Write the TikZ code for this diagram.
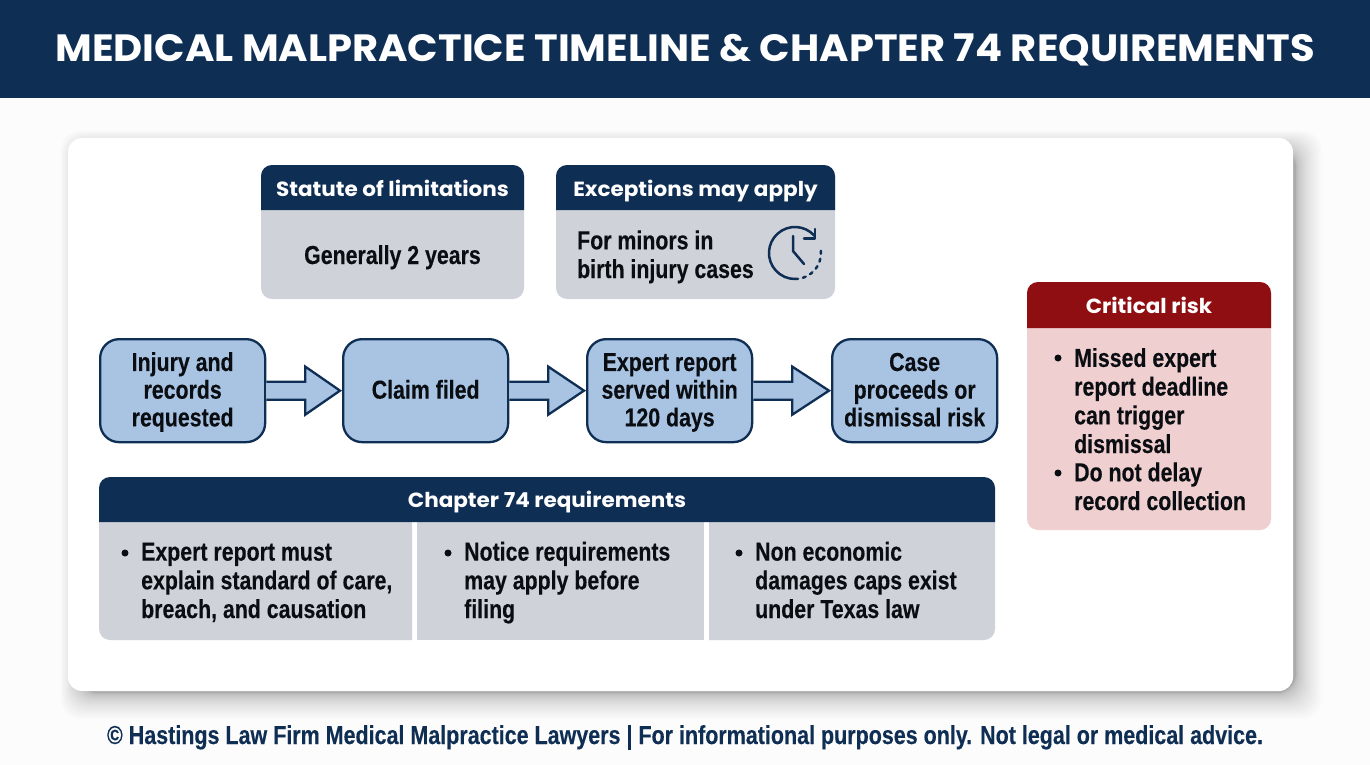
\documentclass[tikz,border=0pt]{standalone}
\usepackage{fontspec}
\setmainfont{Liberation Sans}
\newfontfamily\bodyf{Liberation Sans}[FakeStretch=0.82,BoldFeatures={FakeBold=0.25}]
\newfontfamily\footf{Liberation Sans}[FakeStretch=0.826,BoldFeatures={FakeBold=0.25}]
\newfontfamily\headf{Poppins}[FakeStretch=1.05]
\newfontfamily\titlef{Poppins}[FakeStretch=1.053]
\definecolor{navy}{HTML}{0F2E54}
\definecolor{panelgray}{HTML}{CFD3D9}
\definecolor{flowblue}{HTML}{A9C4E3}
\definecolor{riskred}{HTML}{8F0E12}
\definecolor{riskpink}{HTML}{EFCFCF}
\definecolor{inkb}{HTML}{0A0D12}
\definecolor{pagebg}{HTML}{FCFCFD}
\usetikzlibrary{calc}
\newcommand{\topst}{\rule{0pt}{24.4pt}}
\tikzset{
  flowbox/.style={draw=navy,line width=2.3pt,fill=flowblue,rounded corners=19pt,minimum width=165pt,minimum height=103pt,inner sep=0pt,anchor=north west,align=center,text=inkb,font=\bodyf\bfseries\fontsize{26}{27.7}\selectfont},
  flowarrow/.style={draw=navy,line width=2.3pt,fill=flowblue,line join=miter},
  headtext/.style={text=white,font=\headf\bfseries\fontsize{20.5}{24}\selectfont,inner sep=0pt,anchor=base},
  bodytext/.style={text=inkb,font=\bodyf\bfseries\fontsize{26}{28.7}\selectfont,inner sep=0pt,align=left,anchor=base west},
  iconline/.style={draw=navy,line width=2.5pt,line cap=round,line join=round}
}
\newcommand{\flowarr}[3]{% from, to, name
  \draw[flowarrow] ($(#1.east)+(0,-9)$) -- ($(#1.east)+(39,-9)$) -- ($(#1.east)+(39,-24)$) -- ($(#2.west)+(-2,0)$) -- ($(#1.east)+(39,24)$) -- ($(#1.east)+(39,9)$) -- ($(#1.east)+(0,9)$);
}
\newcommand{\headband}[5]{%
  \fill[#5] (#1,#4) [rounded corners=11pt] -- (#1,#2) -- (#3,#2) [sharp corners] -- (#3,#4) -- cycle;
}
\begin{document}
\begin{tikzpicture}[x=1pt,y=-1pt]
\useasboundingbox (0,0) rectangle (1370,765);
\fill[pagebg] (0,0) rectangle (1370,765);
\fill[navy] (0,0) rectangle (1370,98);
\node[text=white,font=\titlef\bfseries\fontsize{38}{42}\selectfont,inner sep=0pt,anchor=base] (title) at (685,62) {MEDICAL MALPRACTICE TIMELINE \& CHAPTER 74 REQUIREMENTS};
% card shadow
\foreach \i in {26,25,...,0}{
  \fill[black,opacity=0.0135,rounded corners=20pt] ({78-\i*\i/39},{148-\i*\i/39}) rectangle ({1293+3+\i*\i/26},{691+2+\i*\i/26});
}
\fill[white,rounded corners=14pt] (68,138) rectangle (1293,691);
% statute
\fill[panelgray,rounded corners=11pt] (261,165) rectangle (524,299);
\headband{261}{165}{524}{210}{navy}
\node[headtext] (sh) at (392.5,196) {Statute of limitations};
\node[bodytext,anchor=base] (sb) at (392.5,264) {Generally 2 years};
% exceptions
\fill[panelgray,rounded corners=11pt] (556,165) rectangle (835,299);
\headband{556}{165}{835}{210}{navy}
\node[headtext] (eh) at (695.5,196) {Exceptions may apply};
\node[bodytext] (eb) at (577,278) {For minors in\\birth injury cases};
% clock icon
\draw[iconline] (814.3,235.6) arc[start angle=-42,end angle=-270,radius=26];
\draw[iconline,dash pattern=on 3pt off 5pt] (795,279) arc[start angle=90,end angle=-15,radius=26];
\draw[iconline] (804,238.5) -- (815,238.5) -- (815,229);
\draw[iconline] (793,236) -- (793,251) -- (804,264);
% flow
\node[flowbox] (f1) at (99,338) {\topst Injury and\\records\\requested\strut};
\node[flowbox] (f2) at (342,338) {\topst Claim filed\strut};
\node[flowbox] (f3) at (586,338) {\topst Expert report\\served within\\120 days\strut};
\node[flowbox] (f4) at (831,338) {\topst Case\\proceeds or\\dismissal risk\strut};
\flowarr{f1}{f2}{a1}
\flowarr{f2}{f3}{a2}
\flowarr{f3}{f4}{a3}
% chapter 74
\fill[panelgray] (99,522) [rounded corners=11pt] -- (99,640) [sharp corners] -- (412,640) -- (412,522) -- cycle;
\fill[panelgray] (417,522) rectangle (704,640);
\fill[panelgray] (709,522) -- (995,522) [rounded corners=11pt] -- (995,640) [sharp corners] -- (709,640) -- cycle;
\headband{99}{477}{995}{522}{navy}
\node[headtext] (ch) at (547,507.5) {Chapter 74 requirements};
\fill[inkb] (125,553) circle[radius=3.5];
\node[bodytext] (c1) at (141,618) {Expert report must\\explain standard of care,\\breach, and causation};
\fill[inkb] (448,553) circle[radius=3.5];
\node[bodytext] (c2) at (464,618) {Notice requirements\\may apply before\\filing};
\fill[inkb] (739,553) circle[radius=3.5];
\node[bodytext] (c3) at (755,618) {Non economic\\damages caps exist\\under Texas law};
% critical
\fill[riskpink,rounded corners=11pt] (1027,282) rectangle (1271,530);
\headband{1027}{282}{1271}{328}{riskred}
\node[headtext] (rh) at (1149,313) {Critical risk};
\fill[inkb] (1058,358) circle[radius=3.5];
\node[bodytext] (rb1) at (1074,453) {Missed expert\\report deadline\\can trigger\\dismissal};
\fill[inkb] (1058,473) circle[radius=3.5];
\node[bodytext] (rb2) at (1074,510) {Do not delay\\record collection};
% footer
\node[text=navy,font=\footf\bfseries\fontsize{26}{28}\selectfont,inner sep=0pt,anchor=base] (foot) at (685,744) {© Hastings Law Firm Medical Malpractice Lawyers | For informational purposes only. Not legal or medical advice.};
\end{tikzpicture}
\end{document}
